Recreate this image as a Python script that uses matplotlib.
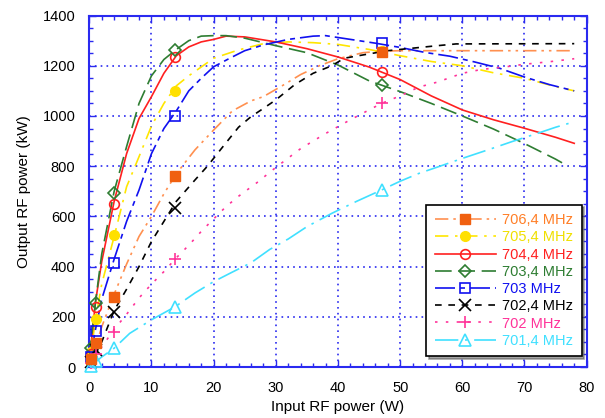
import matplotlib
matplotlib.use("Agg")
import matplotlib.pyplot as plt
from matplotlib.lines import Line2D
from matplotlib.ticker import MultipleLocator

plt.rcParams['font.family'] = ['Liberation Sans', 'DejaVu Sans']

labels = ["706,4 MHz", "705,4 MHz", "704,4 MHz", "703,4 MHz",
          "703 MHz", "702,4 MHz", "702 MHz", "701,4 MHz"]

nan = float('nan')
# measured points (markers)
meas_x = [0.2, 1.1, 3.9, 13.8, 47.0]
meas_706_4 = [30, 94, 280, 760, 1256]
meas_705_4 = [60, 192, 526, 1100, 1260]
meas_704_4 = [50, 240, 649, 1234, 1176]
meas_703_4 = [75, 255, 692, 1262, 1123]
meas_703 = [40, 145, 415, 1000, 1290]
meas_702_4 = [20, 68, 218, 632, nan]
meas_702 = [15, 50, 141, 429, 1050]
meas_701_4 = [5, 25, 74, 240, 705]

# fitted curves
fit_706_4_x = [0, 1, 2, 4, 6, 8, 10, 12, 14, 17, 20, 23, 26, 28, 31, 34, 37, 40, 44, 47, 50, 78]
fit_706_4_y = [5, 80, 160, 290, 410, 520, 600, 690, 770, 865, 944, 1020, 1060, 1077, 1120, 1165, 1200, 1228, 1252, 1258, 1260, 1260]

fit_705_4_x = [0, 1, 2, 4, 6, 8, 10, 12, 14, 16, 20, 24, 28, 32, 36, 40, 45, 50, 55, 60, 65, 70, 75, 78]
fit_705_4_y = [10, 190, 330, 520, 718, 838, 960, 1050, 1120, 1160, 1230, 1263, 1288, 1295, 1292, 1285, 1265, 1240, 1217, 1200, 1172, 1150, 1117, 1100]

fit_704_4_x = [0, 1, 2, 3, 4, 6, 8, 10, 12, 14, 16, 18, 20, 22, 25, 30, 35, 40, 45, 50, 55, 60, 65, 70, 75, 78]
fit_704_4_y = [20, 260, 420, 540, 660, 850, 990, 1077, 1170, 1240, 1275, 1295, 1305, 1318, 1315, 1295, 1268, 1235, 1195, 1145, 1080, 1024, 985, 951, 915, 891]

fit_703_4_x = [0, 1, 2, 4, 6, 8, 10, 12, 14, 16, 18, 20, 22, 25, 30, 35, 40, 45, 50, 55, 60, 65, 70, 75, 77]
fit_703_4_y = [40, 260, 450, 700, 878, 1050, 1160, 1225, 1265, 1300, 1318, 1320, 1320, 1310, 1280, 1252, 1203, 1140, 1097, 1050, 1000, 948, 890, 828, 800]

fit_703_x = [0, 1, 2, 4, 6, 8, 10, 12, 14, 16, 18, 20, 22.6, 25, 28, 32, 36, 38, 42, 46, 50, 54, 58, 62, 66, 70, 74, 78]
fit_703_y = [10, 150, 270, 430, 580, 705, 850, 950, 1020, 1100, 1150, 1196, 1230, 1260, 1283, 1305, 1318, 1320, 1305, 1290, 1273, 1253, 1238, 1215, 1190, 1155, 1125, 1100]

fit_702_4_x = [0, 1, 2, 4, 6, 8, 10, 12, 14, 17, 19, 21.5, 24, 26, 28, 30, 33, 36, 39, 41, 44, 48, 52, 56, 59, 78]
fit_702_4_y = [0, 50, 100, 225, 310, 400, 500, 580, 660, 745, 800, 878, 955, 997, 1030, 1064, 1124, 1170, 1200, 1230, 1243, 1260, 1270, 1280, 1287, 1288]

fit_702_x = [0, 1, 2, 4, 6, 8, 10, 12, 14, 16, 18, 20, 22, 24, 27, 30, 34, 38, 42, 45, 47, 50, 53, 56, 60, 63, 67, 70, 74, 78]
fit_702_y = [0, 40, 80, 150, 210, 275, 330, 380, 435, 485, 540, 590, 639, 680, 735, 795, 870, 930, 985, 1024, 1050, 1080, 1115, 1135, 1170, 1185, 1196, 1206, 1216, 1228]

fit_701_4_x = [0, 1, 2, 4, 6.5, 10, 13.8, 17, 20, 23, 26, 29, 32, 35, 39, 43, 47, 50, 53, 57, 60, 64, 68, 72, 75, 78]
fit_701_4_y = [0, 20, 40, 75, 134, 188, 240, 295, 340, 378, 415, 468, 510, 559, 612, 660, 705, 740, 771, 805, 831, 864, 898, 930, 955, 977]

series = [
    (fit_706_4_x, fit_706_4_y, meas_706_4, '#FF9050', '#F06010', (0, (8, 3, 1.5, 3, 1.5, 3)), 's', True),
    (fit_705_4_x, fit_705_4_y, meas_705_4, '#FFE600', '#FFE000', (0, (8, 4, 1.5, 4)), 'o', True),
    (fit_704_4_x, fit_704_4_y, meas_704_4, '#FF2020', '#FF2020', '-', 'o', False),
    (fit_703_4_x, fit_703_4_y, meas_703_4, '#2E7D32', '#2E7D32', (0, (10, 4)), 'D', False),
    (fit_703_x, fit_703_y, meas_703, '#1010F0', '#1010F0', (0, (12, 3, 3, 3)), 's', False),
    (fit_702_4_x, fit_702_4_y, meas_702_4, '#000000', '#000000', (0, (4, 4)), 'x', False),
    (fit_702_x, fit_702_y, meas_702, '#FF3399', '#FF3399', (0, (1.5, 5)), '+', False),
    (fit_701_4_x, fit_701_4_y, meas_701_4, '#40E0FF', '#40E0FF', (0, (14, 4, 1.5, 4)), '^', False),
]
text_colors = ['#FF7F27', '#F0E000', '#FF2020', '#2E7D32', '#1010F0', '#000000', '#FF3399', '#40E0FF']

fig = plt.figure(figsize=(6.05, 4.18), dpi=100)
ax = fig.add_axes([0.1476, 0.122, 0.8221, 0.8408])

handles = []
for i, ((cx, cy, my, lc, mc, ls, mk, filled), lab) in enumerate(zip(series, labels)):
    ax.plot(cx, cy, color=lc, ls=ls, lw=1.2, zorder=3)
    ms = 7 if mk in ('s', 'o') else (6 if mk == 'D' else 8)
    kw = dict(marker=mk, ls='none', ms=ms, clip_on=False)
    if filled:
        kw.update(markerfacecolor=mc, markeredgecolor=mc)
    else:
        kw.update(markerfacecolor='none', markeredgecolor=mc, markeredgewidth=1.2)
    ax.plot(meas_x, my, zorder=5 if i == 0 else 4, **kw)
    handles.append(Line2D([], [], color=lc, ls=ls, lw=1.2,
                          **{k: v for k, v in kw.items() if k not in ('ls', 'clip_on')}))

ax.set_xlim(0, 80)
ax.set_ylim(0, 1400)
ax.xaxis.set_major_locator(MultipleLocator(10))
ax.xaxis.set_minor_locator(MultipleLocator(2))
ax.yaxis.set_major_locator(MultipleLocator(200))
ax.yaxis.set_minor_locator(MultipleLocator(50))
blue = '#2A2AF0'
for s in ax.spines.values():
    s.set_color(blue)
    s.set_linewidth(1.5)
ax.tick_params(which='both', direction='in', top=True, right=True, color=blue, labelsize=10.5, labelcolor='black')
ax.tick_params(which='major', length=5, width=1, pad=10)
ax.tick_params(which='minor', length=3, width=1)
ax.grid(True, which='major', color=blue, ls=(0, (1, 2.5)), lw=1.2)
ax.set_axisbelow(True)

ax.set_xlabel("Input RF power (W)", fontsize=11, labelpad=4)
ax.set_ylabel("Output RF power (kW)", fontsize=11, labelpad=8)

leg = ax.legend(handles, labels, loc='lower right', bbox_to_anchor=(0.99, 0.03),
                borderaxespad=0,
                frameon=True, fancybox=False, shadow=True, edgecolor='black',
                fontsize=10.5, handlelength=4.2, handletextpad=0.4, labelspacing=0.22,
                borderpad=0.6, framealpha=1)
leg.get_frame().set_linewidth(1.2)
for t, c in zip(leg.get_texts(), text_colors):
    t.set_color(c)

fig.savefig("out.png", dpi=100)
